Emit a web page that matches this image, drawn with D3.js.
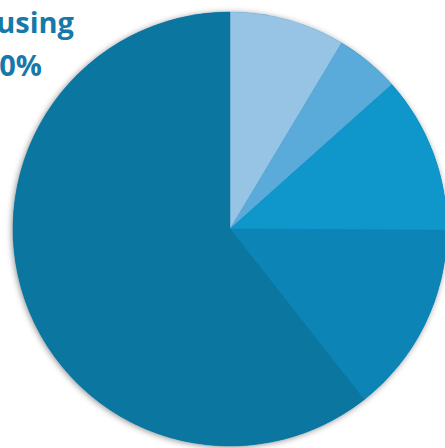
<!DOCTYPE html>
<html>
<head>
<meta charset="utf-8">
<script src="https://cdn.jsdelivr.net/npm/d3@7"></script>
<style>
  html, body { margin: 0; padding: 0; background: #ffffff; overflow: hidden; }
  svg { display: block; }
</style>
</head>
<body>
<svg id="chart" width="445" height="448"></svg>
<script>
const categories = ["Slice A", "Slice B", "Slice C", "Slice D", "Housing"];
const values = [8.6, 4.8, 11.7, 14.3, 60.6];
const colors = ["#97C4E4", "#5AABD9", "#0F96CB", "#0C85B6", "#0B76A0"];
const labelLines = ["Housing", "60%"];

const svg = d3.select("#chart");
const cx = 230, cy = 229, r = 217;

const defs = svg.append("defs");
const f = defs.append("filter").attr("id", "shadow")
  .attr("x", "-20%").attr("y", "-20%").attr("width", "140%").attr("height", "140%");
f.append("feDropShadow").attr("dx", -1).attr("dy", 1).attr("stdDeviation", 3)
  .attr("flood-color", "#000").attr("flood-opacity", 0.45);

const color = d3.scaleOrdinal().domain(categories).range(colors);
const pie = d3.pie().sort(null).value(d => d.v);
const arc = d3.arc().innerRadius(0).outerRadius(r);
const data = categories.map((c, i) => ({ c, v: values[i] }));

const g = svg.append("g").attr("transform", `translate(${cx},${cy})`);
g.append("circle").attr("r", r).attr("fill", "#0B76A0").attr("filter", "url(#shadow)");
g.selectAll("path").data(pie(data)).join("path")
  .attr("d", arc)
  .attr("fill", d => color(d.data.c))
  .attr("stroke", d => color(d.data.c))
  .attr("stroke-width", 0.5);

const labelEnds = [74, 42];
const t = svg.append("text")
  .attr("font-family", "'Open Sans', sans-serif")
  .attr("font-weight", 700)
  .attr("font-size", 29)
  .attr("fill", "#1679A9")
  .attr("text-anchor", "end");
t.selectAll("tspan").data(labelLines).join("tspan")
  .attr("x", (d, i) => labelEnds[i])
  .attr("y", (d, i) => 33 + i * 43)
  .text(d => d);
</script>
</body>
</html>
